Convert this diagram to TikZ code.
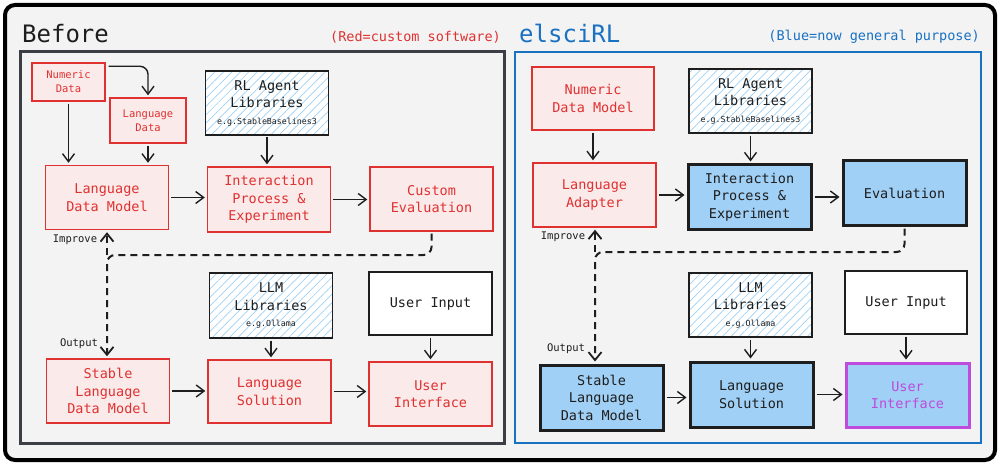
\documentclass[tikz,border=0pt]{standalone}
\usepackage{fontspec}
\setmainfont{DejaVu Sans Mono}
\usetikzlibrary{arrows.meta,patterns.meta,calc}
\definecolor{cred}{HTML}{E03131}
\definecolor{credfill}{HTML}{FBEAEA}
\definecolor{cblue}{HTML}{1971C2}
\definecolor{cbfill}{HTML}{A0D0F5}
\definecolor{cdark}{HTML}{1E1E1E}
\definecolor{cpanel}{HTML}{3B3F45}
\definecolor{cpurple}{HTML}{BE4BDB}
\definecolor{cbg}{HTML}{F3F3F3}
\newcommand{\fsz}[2]{\fontsize{#1}{#2}\selectfont}
\newcommand{\egsize}{\fontsize{8.3}{10}\selectfont}
\tikzset{
  box/.style={rectangle, minimum width=123pt, minimum height=64pt, inner sep=0pt, align=center, font=\fsz{13.5}{17.5}},
  redbox/.style={box, draw=cred, fill=credfill, line width=1.4pt, text=cred},
  smallred/.style={redbox, font=\fsz{10.5}{14}},
  bluebox/.style={box, draw=cdark, fill=cbfill, line width=3pt, text=cdark},
  plainbox/.style={box, draw=cdark, fill=white, line width=1.3pt, text=cdark},
  hatchbox/.style={box, draw=cdark, line width=1.3pt, text=cdark, preaction={fill=white},
     pattern={Lines[angle=45,distance=6pt,line width=0.7pt]}, pattern color=cbfill},
  arr/.style={-{Straight Barb[length=8pt,width=12pt,line width=1.4pt]}, line width=1.4pt, draw=cdark, shorten >=2pt, shorten <=2pt},
  dasharr/.style={-{Straight Barb[length=8pt,width=13pt,line width=1.8pt]}, line width=2pt, draw=cdark, dash pattern=on 7pt off 5pt, rounded corners=8pt},
  lbl/.style={font=\fsz{10.5}{12}, text=cdark, inner sep=0pt}
}
\begin{document}
\begin{tikzpicture}[x=1pt,y=-1pt]
\useasboundingbox (0,0) rectangle (1000,465);
\fill[white] (0,0) rectangle (1000,465);
\draw[line width=4pt, fill=cbg, rounded corners=10pt] (5,5) rectangle (995,460);

% titles
\node[anchor=base west, font=\fsz{24}{26}, text=cdark, inner sep=0pt] (t1) at (22,43) {Before};
\node[anchor=base east, font=\fsz{13.5}{15}, text=cred, inner sep=0pt] (s1) at (501,42) {(Red=custom software)};
\node[anchor=base west, font=\fsz{24}{26}, text=cblue, inner sep=0pt] (t2) at (519,43) {elsciRL};
\node[anchor=base east, font=\fsz{13.5}{15}, text=cblue, inner sep=0pt] (s2) at (980,41) {(Blue=now general purpose)};

% panels
\draw[line width=3pt, draw=cpanel] (20,52) rectangle (504,443);
\draw[line width=2.5pt, draw=cblue] (515,52) rectangle (981,443);

% ---------- left panel ----------
\node[smallred, minimum width=73pt, minimum height=38pt] (nd) at (68.5,82) {Numeric\\Data};
\node[smallred, minimum width=76pt, minimum height=45pt] (ld) at (148,120.5) {Language\\Data};
\node[hatchbox] (rl1) at (267,103) {RL Agent\\Libraries\\[-1pt]{\egsize e.g.StableBaselines3}};
\node[redbox] (ldm) at (107,197.5) {Language\\Data Model};
\node[redbox, minimum height=65pt] (ip1) at (269,199.5) {Interaction\\Process \&\\Experiment};
\node[redbox] (ce) at (431.5,199) {Custom\\Evaluation};
\node[hatchbox, minimum height=65pt] (llm1) at (271,305.5) {LLM\\Libraries\\[-1pt]{\egsize e.g.Ollama}};
\node[plainbox, minimum height=63pt] (ui1) at (430.5,303.5) {User Input};
\node[redbox] (sldm1) at (108,391) {Stable\\Language\\Data Model};
\node[redbox, minimum height=63pt] (ls1) at (269.5,391.5) {Language\\Solution};
\node[redbox] (uif1) at (430.5,394) {User\\Interface};

\draw[arr, rounded corners=8pt] ($(nd.north east)+(1,4)$) -| (ld.north);
\draw[arr] (nd.south) -- (nd.south |- ldm.north);
\draw[arr] (ld.south) -- (ld.south |- ldm.north);
\draw[arr] (rl1.south) -- (rl1.south |- ip1.north);
\draw[arr] (ldm.east) -- (ldm.east -| ip1.west);
\draw[arr] (ip1.east) -- (ip1.east -| ce.west);
\draw[arr] (llm1.south) -- (llm1.south |- ls1.north);
\draw[arr] (ui1.south) -- (ui1.south |- uif1.north);
\draw[arr] (sldm1.east) -- (sldm1.east -| ls1.west);
\draw[arr] (ls1.east) -- (ls1.east -| uif1.west);

\coordinate (j1) at (107,255);
\draw[dasharr, shorten <=2pt, shorten >=2pt] (ce.south) |- (j1) -- (j1 |- sldm1.north);
\draw[dasharr, shorten >=2pt] (j1) -- (j1 |- ldm.south);
\node[lbl] (imp1) at (75,240) {Improve};
\node[lbl] (out1) at (79,344) {Output};

% ---------- right panel ----------
\node[redbox, minimum width=122pt, minimum height=63pt] (ndm) at (593,98.5) {Numeric\\Data Model};
\node[hatchbox] (rl2) at (750.5,101) {RL Agent\\Libraries\\[-1pt]{\egsize e.g.StableBaselines3}};
\node[redbox] (la) at (594.5,195) {Language\\Adapter};
\node[bluebox] (ip2) at (749.5,197) {Interaction\\Process \&\\Experiment};
\node[bluebox] (ev) at (904.5,193) {Evaluation};
\node[hatchbox] (llm2) at (750.5,305) {LLM\\Libraries\\[-1pt]{\egsize e.g.Ollama}};
\node[plainbox, minimum width=122pt, minimum height=63pt] (ui2) at (906,302.5) {User Input};
\node[bluebox, minimum height=65pt] (sldm2) at (601.5,397.5) {Stable\\Language\\Data Model};
\node[bluebox, minimum height=65pt] (ls2) at (751.5,394.5) {Language\\Solution};
\node[bluebox, draw=cpurple, text=cpurple] (uif2) at (907.5,395) {User\\Interface};

\draw[arr] (ndm.south) -- (ndm.south |- la.north);
\draw[arr] (rl2.south) -- (rl2.south |- ip2.north);
\draw[arr] (la.east) -- (la.east -| ip2.west);
\draw[arr] (ip2.east) -- (ip2.east -| ev.west);
\draw[arr] (llm2.south) -- (llm2.south |- ls2.north);
\draw[arr] (ui2.south) -- (ui2.south |- uif2.north);
\draw[arr] (sldm2.east) -- (sldm2.east -| ls2.west);
\draw[arr] (ls2.east) -- (ls2.east -| uif2.west);

\coordinate (j2) at (595,252);
\draw[dasharr, shorten <=2pt, shorten >=2pt] (ev.south) |- (j2) -- (j2 |- sldm2.north);
\draw[dasharr, shorten >=2pt] (j2) -- (j2 |- la.south);
\node[lbl] (imp2) at (563,237) {Improve};
\node[lbl] (out2) at (566,349) {Output};
\end{tikzpicture}
\end{document}
